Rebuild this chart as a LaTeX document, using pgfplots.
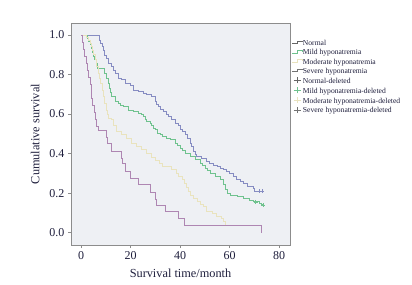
\documentclass[border=0pt]{standalone}
\usepackage{pgfplots}
\pgfplotsset{compat=1.18}
\usepackage{fontspec}
\setmainfont{Liberation Serif}
\definecolor{cNormal}{HTML}{868CC2}
\definecolor{cMild}{HTML}{6FC28E}
\definecolor{cMod}{HTML}{E9E3BE}
\definecolor{cSev}{HTML}{AE86B2}
\definecolor{txt}{HTML}{1E1E3C}
\definecolor{bg}{HTML}{EEF0F4}
\definecolor{frame}{HTML}{8C8C8C}
\pgfplotstableread{
t s
0 1.0
7.4 0.975
7.9 0.958
8.5 0.941
9.0 0.924
9.6 0.899
10.1 0.882
11.0 0.857
12.4 0.840
13.2 0.820
13.7 0.807
15.1 0.781
16.4 0.773
17.8 0.756
19.8 0.747
21.1 0.722
23.2 0.714
25.2 0.706
26.5 0.697
28.6 0.688
29.9 0.663
30.5 0.650
31.2 0.638
32.2 0.625
33.3 0.613
34.3 0.600
35.3 0.588
36.5 0.571
38.0 0.554
39.3 0.545
40.0 0.520
41.0 0.512
42.0 0.495
43.0 0.478
44.0 0.453
44.7 0.436
45.4 0.411
46.0 0.394
46.7 0.385
48.8 0.377
50.8 0.360
52.0 0.352
53.5 0.343
55.0 0.335
56.2 0.327
57.5 0.318
58.9 0.310
60.0 0.301
61.5 0.284
62.8 0.272
64.2 0.259
65.5 0.247
67.0 0.234
69.6 0.222
70.2 0.209
73.7 0.209
}\normaltab
\pgfplotstableread{
t s
0 1.0
2.6 0.983
3.0 0.966
3.7 0.950
4.3 0.933
4.7 0.910
5.0 0.890
5.6 0.874
6.1 0.857
6.6 0.832
9.3 0.807
10.2 0.780
11.0 0.756
11.5 0.730
12.0 0.710
12.4 0.688
13.7 0.663
15.1 0.655
16.0 0.646
17.1 0.638
19.1 0.621
21.1 0.613
23.2 0.605
24.2 0.596
25.2 0.587
26.0 0.571
26.5 0.562
27.9 0.554
28.5 0.545
29.2 0.529
29.9 0.520
31.0 0.503
31.9 0.495
33.0 0.486
34.6 0.478
36.0 0.470
38.0 0.453
39.0 0.440
40.0 0.428
41.0 0.415
42.0 0.402
44.0 0.385
46.1 0.369
48.1 0.352
49.0 0.340
50.1 0.327
51.0 0.315
52.1 0.302
54.1 0.284
56.2 0.268
57.5 0.242
58.2 0.217
59.0 0.200
60.5 0.190
63.0 0.183
65.6 0.173
68.0 0.165
69.6 0.156
72.0 0.148
73.0 0.141
73.7 0.141
}\mildtab
\pgfplotstableread{
t s
0 1.0
2.0 0.990
2.8 0.975
3.6 0.958
4.2 0.940
4.7 0.924
5.2 0.900
5.7 0.874
6.3 0.840
7.0 0.807
7.5 0.780
7.9 0.756
8.5 0.720
9.0 0.688
9.6 0.655
10.1 0.621
10.6 0.600
11.0 0.579
12.4 0.571
13.0 0.545
14.4 0.512
16.4 0.495
18.5 0.478
20.5 0.453
22.5 0.436
24.5 0.419
26.5 0.403
28.3 0.380
30.0 0.365
31.5 0.350
33.0 0.335
36.6 0.318
38.7 0.302
39.5 0.284
41.0 0.268
41.8 0.250
42.5 0.230
43.5 0.210
44.2 0.190
45.4 0.175
47.0 0.158
48.1 0.141
49.5 0.133
50.8 0.110
53.0 0.099
54.8 0.085
56.5 0.070
57.5 0.057
58.2 0.040
58.7 0.040
}\modtab
\pgfplotstableread{
t s
0 1.0
0.6 0.964
1.0 0.929
1.5 0.893
2.2 0.857
2.7 0.821
3.1 0.786
3.6 0.750
4.0 0.714
4.3 0.679
4.8 0.643
5.3 0.607
5.8 0.571
6.4 0.536
7.0 0.518
10.4 0.482
10.8 0.453
12.4 0.411
16.2 0.375
16.6 0.352
17.8 0.310
19.8 0.276
23.2 0.242
27.9 0.205
29.9 0.167
30.6 0.140
33.9 0.107
39.5 0.071
41.6 0.036
73.0 0.000
}\sevtab
\begin{document}
\begin{tikzpicture}[x=1pt,y=1pt]
\path[use as bounding box] (-71,-39) rectangle (341,245);
\begin{axis}[
  at={(0,0)}, anchor=south west,
  scale only axis, width=219pt, height=221.7pt,
  xmin=-4.04, xmax=84.4, ymin=-0.062, ymax=1.059,
  xtick={0,20,40,60,80},
  ytick={0,0.2,0.4,0.6,0.8,1.0},
  yticklabel style={/pgf/number format/.cd, fixed, fixed zerofill, precision=1},
  /pgf/number format/assume math mode=true,
  tick align=outside, tick pos=left,
  major tick length=3pt,
  every tick/.style={frame, line width=0.6pt},
  axis line style={frame, line width=0.8pt},
  axis background/.style={fill=bg},
  ticklabel style={font=\fontsize{12}{14}\selectfont, text=txt},
  label style={font=\fontsize{12.3}{14}\selectfont, text=txt},
  xlabel={Survival time/month},
  ylabel={Cumulative survival},
  xlabel style={at={(axis description cs:0.5,0)}, anchor=center, yshift=-28pt},
  ylabel style={at={(axis description cs:-0.164,0.5)}, anchor=center},
  legend style={at={(1.007,0.929)}, anchor=north west, draw=none, fill=none,
    inner sep=0pt, row sep=1pt,
    nodes={inner sep=0.6pt, text height=5.5pt, text depth=1.7pt,
      font=\fontsize{7.6}{9}\selectfont, text=txt}},
  legend cell align=left,
]
\addplot[cNormal, line width=0.8pt, const plot, forget plot] table {\normaltab};
\addplot[cMild, line width=0.8pt, const plot, forget plot] table {\mildtab};
\addplot[cMod, line width=0.8pt, const plot, forget plot] table {\modtab};
\addplot[cSev, line width=0.8pt, const plot, forget plot] table {\sevtab};
\addplot[cNormal, only marks, mark=+, mark size=2pt, forget plot] coordinates {(72.0,0.209) (73.2,0.209)};
\addplot[cMild, only marks, mark=+, mark size=2pt, forget plot] coordinates {(70.5,0.156) (73.5,0.141)};
\addlegendimage{legend image code/.code={\draw[black!60, line width=0.6pt] (0pt,0pt) -- (5pt,0pt) -- (5pt,2.5pt) -- (10pt,2.5pt) -- (10pt,1.2pt);}}
\addlegendentry{Normal}
\addlegendimage{legend image code/.code={\draw[cMild, line width=0.6pt] (0pt,0pt) -- (5pt,0pt) -- (5pt,2.5pt) -- (10pt,2.5pt) -- (10pt,1.2pt);}}
\addlegendentry{Mild hyponatremia}
\addlegendimage{legend image code/.code={\draw[cMod, line width=0.6pt] (0pt,0pt) -- (5pt,0pt) -- (5pt,2.5pt) -- (10pt,2.5pt) -- (10pt,1.2pt);}}
\addlegendentry{Moderate hyponatremia}
\addlegendimage{legend image code/.code={\draw[black!55, line width=0.6pt] (0pt,0pt) -- (5pt,0pt) -- (5pt,2.5pt) -- (10pt,2.5pt) -- (10pt,1.2pt);}}
\addlegendentry{Severe hyponatremia}
\addlegendimage{legend image code/.code={\draw[black!60, line width=0.5pt] (1.5pt,1.2pt) -- (8.5pt,1.2pt) (5pt,-2pt) -- (5pt,4.4pt);}}
\addlegendentry{Normal-deleted}
\addlegendimage{legend image code/.code={\draw[cMild, line width=0.5pt] (1.5pt,1.2pt) -- (8.5pt,1.2pt) (5pt,-2pt) -- (5pt,4.4pt);}}
\addlegendentry{Mild hyponatremia-deleted}
\addlegendimage{legend image code/.code={\draw[cMod, line width=0.5pt] (1.5pt,1.2pt) -- (8.5pt,1.2pt) (5pt,-2pt) -- (5pt,4.4pt);}}
\addlegendentry{Moderate hyponatremia-deleted}
\addlegendimage{legend image code/.code={\draw[black!55, line width=0.5pt] (1.5pt,1.2pt) -- (8.5pt,1.2pt) (5pt,-2pt) -- (5pt,4.4pt);}}
\addlegendentry{Severe hyponatremia-deleted}
\end{axis}
\end{tikzpicture}
\end{document}
